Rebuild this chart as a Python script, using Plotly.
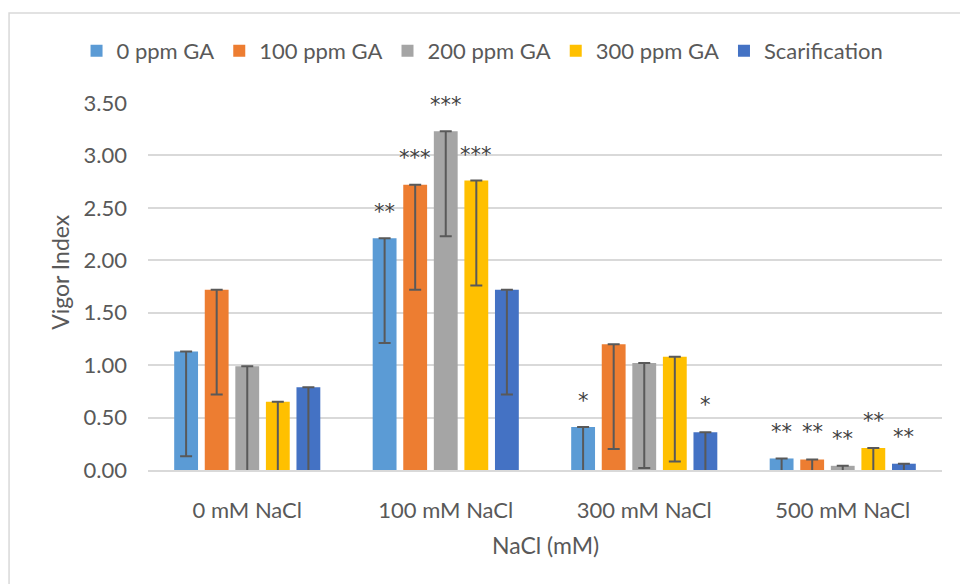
import plotly.graph_objects as go

categories = ["0 mM NaCl", "100 mM NaCl", "300 mM NaCl", "500 mM NaCl"]
series_names = ["0 ppm GA", "100 ppm GA", "200 ppm GA", "300 ppm GA", "Scarification"]
ga0 = [1.13, 2.21, 0.41, 0.11]
ga100 = [1.72, 2.72, 1.20, 0.10]
ga200 = [0.99, 3.23, 1.02, 0.04]
ga300 = [0.65, 2.76, 1.08, 0.21]
scar = [0.79, 1.72, 0.36, 0.06]
err_minus = [1.0, 1.0, 1.0, 1.0]
err_plus = [0.0, 0.0, 0.0, 0.0]
colors = ["#5B9BD5", "#ED7D31", "#A5A5A5", "#FFC000", "#4472C4"]

# significance marks: (category index, series index, label, y value of mark)
sig_cat = [1, 1, 1, 1, 2, 2, 3, 3, 3, 3, 3]
sig_ser = [0, 1, 2, 3, 0, 4, 0, 1, 2, 3, 4]
sig_lab = ["**", "***", "***", "***", "*", "*", "**", "**", "**", "**", "**"]
sig_y = [2.49, 3.00, 3.51, 3.03, 0.69, 0.65, 0.39, 0.39, 0.32, 0.50, 0.34]

values = [ga0, ga100, ga200, ga300, scar]
FONT = "Lato"
TXT = "#595959"
BARGAP = 0.23
GROUPGAP = 0.22
YMAX = 3.5

fig = go.Figure()
for name, vals, col in zip(series_names, values, colors):
    fig.add_trace(go.Bar(
        name=name, x=categories, y=vals, marker=dict(color=col, line=dict(width=0)),
        error_y=dict(type="data", symmetric=False, array=err_plus, arrayminus=err_minus,
                     color="#595959", thickness=2, width=6),
    ))

nser = len(series_names)
slot = (1 - BARGAP) / nser
for c, s, lab, yv in zip(sig_cat, sig_ser, sig_lab, sig_y):
    fig.add_annotation(x=c + (s - (nser - 1) / 2) * slot, y=yv / YMAX, xref="x", yref="paper",
                       text=lab, showarrow=False, yanchor="middle", yshift=-3,
                       font=dict(family="DejaVu Sans", size=21, color="#404040"))

# axis titles
fig.add_annotation(text="Vigor Index", xref="paper", yref="paper", x=-0.111, y=0.5395,
                   textangle=-90, showarrow=False, xanchor="center", yanchor="middle",
                   font=dict(family=FONT, size=23, color=TXT))
fig.add_annotation(text="NaCl (mM)", xref="paper", yref="paper", x=0.5, y=-0.204,
                   showarrow=False, xanchor="center", yanchor="middle",
                   font=dict(family=FONT, size=23, color=TXT))

# chart-area border
fig.add_shape(type="rect", xref="paper", yref="paper", x0=-0.175, x1=1.05, y0=-0.4, y1=1.245,
              line=dict(color="#D9D9D9", width=1.5), fillcolor="rgba(0,0,0,0)", layer="below")

fig.update_layout(
    width=960, height=584,
    margin=dict(l=148, r=18, t=103, b=114),
    paper_bgcolor="white", plot_bgcolor="white",
    barmode="group", bargap=BARGAP, bargroupgap=GROUPGAP,
    font=dict(family=FONT, size=22, color=TXT),
    legend=dict(orientation="h", x=-0.09, xanchor="left", y=1.142, yanchor="middle",
                font=dict(family=FONT, size=22, color=TXT), traceorder="normal",
                itemclick=False, bgcolor="rgba(0,0,0,0)"),
    showlegend=True,
)
fig.update_yaxes(range=[0, YMAX], dtick=0.5, tickformat=".2f", showgrid=True,
                 gridcolor="#D9D9D9", gridwidth=1.5, zeroline=False, showline=False,
                 ticks="", ticklabelstandoff=20, tickfont=dict(family=FONT, size=22, color=TXT))
fig.update_xaxes(showline=True, linecolor="#D9D9D9", linewidth=1.5, ticks="",
                 ticklabelstandoff=20, tickfont=dict(family=FONT, size=22, color=TXT))

fig.write_html("out.html")
